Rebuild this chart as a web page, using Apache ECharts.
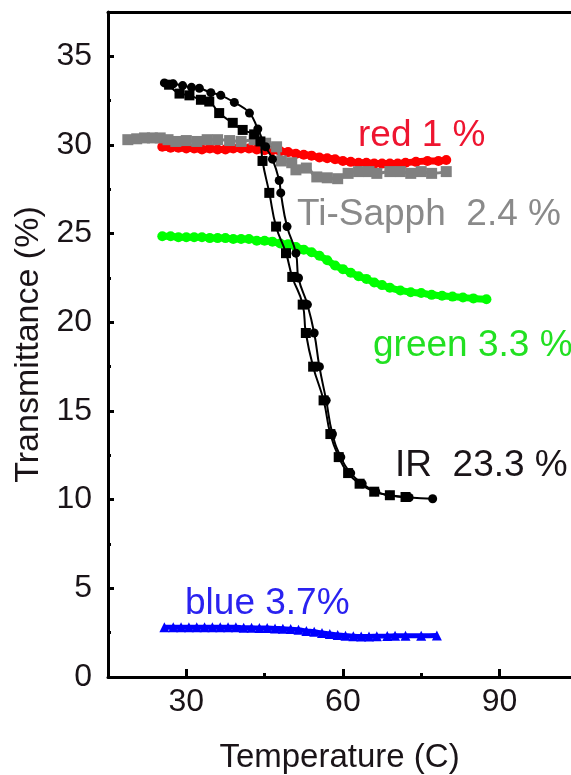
<!DOCTYPE html>
<html><head><meta charset="utf-8">
<script src="https://cdn.jsdelivr.net/npm/echarts@6/dist/echarts.min.js"></script>
<style>html,body{margin:0;padding:0;background:#fff}#c{width:571px;height:775px}</style>
</head><body><div id="c"></div>
<script>
// ---- data ----
const xTickLabels = [30, 60, 90];
const xMinorTicks = [45, 75];
const yTickLabels = [0, 5, 10, 15, 20, 25, 30, 35];
const yMinorTicks = [2.5, 7.5, 12.5, 17.5, 22.5, 27.5, 32.5];

const irCooling = [[25.8,33.5],[27.5,33.45],[29.3,33.35],[31,33.25],[32.5,33.2],[34.7,32.95],[36.6,32.8],[39.2,32.4],[42.1,31.8],[43.7,30.9],[45.2,29.9],[46.5,29.2],[47.8,28.0],[48.1,27.3],[49.3,25.4],[51.0,23.9],[51.5,22.5],[53.2,21.0],[54.5,19.4],[55.5,17.5],[56.8,15.6],[58.0,13.7],[59.6,12.4],[61.5,11.5],[63.7,10.9],[66.3,10.45],[68.9,10.25],[72.7,10.12],[77.2,10.05]];
const irHeating = [[26.7,33.4],[28.7,32.9],[30.6,32.8],[32.8,32.55],[34.4,32.45],[36.3,31.8],[38.9,31.25],[40.8,30.85],[43.0,30.6],[44.2,30.2],[44.6,29.1],[45.9,27.3],[47.2,25.4],[49.1,23.9],[50.3,22.56],[52.3,21.0],[52.9,19.4],[54.3,17.5],[56.3,15.6],[57.6,13.7],[59.2,12.4],[61.0,11.5],[63.2,10.9],[66.0,10.45],[69.0,10.25],[72.0,10.15]];
const redData = [[25.4,29.9],[27,29.85],[28.5,29.85],[30,29.8],[31.5,29.8],[33,29.75],[34.5,29.8],[36,29.75],[37.5,29.75],[39,29.8],[40.5,29.8],[42,29.8],[43.5,29.75],[45,29.7],[46.5,29.7],[48,29.65],[49.5,29.6],[51,29.5],[52.5,29.45],[54,29.4],[55.5,29.3],[57,29.25],[58.5,29.2],[60,29.1],[61.5,29.05],[63,29.0],[64.5,29.0],[66,28.95],[67.5,28.95],[69,28.95],[70.5,28.95],[72,29.0],[74,29.05],[76.2,29.1],[78.3,29.1],[79.8,29.15]];
const tiSapphData = [[18.8,30.3],[20.5,30.35],[22,30.4],[23.5,30.4],[25,30.4],[26.5,30.3],[28,30.2],[30,30.25],[32,30.2],[34,30.3],[36,30.3],[38.3,30.25],[40.5,30.2],[43,30.3],[45.2,30.1],[47.3,29.9],[48.2,29.1],[50.2,29.0],[51,28.6],[53,28.7],[55,28.2],[57,28.15],[59,28.1],[61,28.4],[63,28.5],[65,28.5],[66.5,28.4],[69,28.5],[71,28.5],[73,28.4],[75,28.5],[77,28.4],[79.8,28.5]];
const greenData = [[25.4,24.85],[27,24.85],[28.5,24.8],[30,24.8],[31.5,24.8],[33,24.8],[34.5,24.75],[36,24.75],[37.5,24.75],[39,24.7],[40.5,24.7],[42,24.7],[43.5,24.6],[45,24.6],[46.5,24.55],[48,24.45],[49.5,24.4],[51,24.25],[52.5,24.1],[54,23.95],[55.5,23.75],[57,23.5],[58.5,23.2],[60,23.0],[61.5,22.8],[63,22.6],[64.5,22.45],[66,22.25],[67.5,22.1],[69,21.95],[71,21.8],[73,21.7],[75,21.65],[77,21.55],[79,21.5],[81,21.45],[83,21.4],[85,21.35],[87.5,21.3]];
const blueData = [[25.8,2.8],[27.5,2.8],[29,2.8],[30.5,2.8],[32,2.8],[33.5,2.8],[35,2.8],[36.5,2.8],[38,2.8],[39.5,2.8],[41,2.78],[42.5,2.78],[44,2.76],[45.5,2.76],[47,2.74],[48.5,2.72],[50,2.7],[51.5,2.66],[53,2.6],[54.5,2.55],[56,2.48],[57.5,2.42],[59,2.37],[60.5,2.33],[62,2.3],[63.5,2.29],[65,2.29],[66.5,2.3],[68.5,2.31],[70,2.32],[72,2.33],[75,2.33],[78,2.34]];

const annotationTexts = ['red 1 %', 'Ti-Sapph  2.4 %', 'green 3.3 %', 'IR  23.3 %', 'blue 3.7%'];
const xAxisTitle = 'Temperature (C)';
const yAxisTitle = 'Transmittance (%)';

// ---- chart ----
const textFont = '"Liberation Sans",Arial,sans-serif';
const X_MIN = 15, X_MAX = 103.7, Y_MIN = 0, Y_MAX = 37.5;

const chart = echarts.init(document.getElementById('c'), null, {renderer: 'canvas'});

function line(name, data, color, symbol, size, lw, z) {
  return {
    name, type: 'line', data, smooth: true, symbol, symbolSize: size,
    lineStyle: {color, width: lw}, itemStyle: {color, borderWidth: 0},
    z, animation: false, emphasis: {disabled: true}
  };
}

// top-left corner of each annotation text box (pixels)
const annPos = [
  {x: 358, y: 117, color: '#ee1530'},
  {x: 297, y: 196, color: '#8a8a8a'},
  {x: 373, y: 327, color: '#22e022'},
  {x: 395, y: 447, color: '#1a1418'},
  {x: 185, y: 585, color: '#2a22f0'}
];

chart.setOption({
  animation: false,
  backgroundColor: '#fff',
  grid: {left: 108, right: 0, top: 12, bottom: 98, containLabel: false, outerBoundsMode: 'none'},
  xAxis: [
    {
      type: 'value', position: 'bottom', min: X_MIN, max: X_MAX,
      axisLine: {show: true, lineStyle: {color: '#000', width: 3}},
      axisTick: {show: true, inside: true, length: 8, lineStyle: {color: '#000', width: 3}, customValues: xTickLabels},
      axisLabel: {show: true, customValues: xTickLabels, color: '#1a1418', fontSize: 32, fontFamily: textFont, margin: 9},
      splitLine: {show: false},
      name: xAxisTitle, nameLocation: 'middle', nameGap: 64,
      nameTextStyle: {fontSize: 33, fontFamily: textFont, color: '#1a1418'}
    },
    {
      type: 'value', position: 'bottom', min: X_MIN, max: X_MAX,
      axisLine: {show: false},
      axisTick: {show: true, inside: true, length: 4, lineStyle: {color: '#000', width: 3}, customValues: xMinorTicks},
      axisLabel: {show: false}, splitLine: {show: false}
    },
    {
      type: 'value', position: 'top', min: X_MIN, max: X_MAX,
      axisLine: {show: true, lineStyle: {color: '#000', width: 3}},
      axisTick: {show: false}, axisLabel: {show: false}, splitLine: {show: false}
    }
  ],
  yAxis: [
    {
      type: 'value', position: 'left', min: Y_MIN, max: Y_MAX,
      axisLine: {show: true, lineStyle: {color: '#000', width: 3}},
      axisTick: {show: true, inside: true, length: 6, lineStyle: {color: '#000', width: 3}, customValues: yTickLabels},
      axisLabel: {show: true, customValues: yTickLabels, color: '#1a1418', fontSize: 32, fontFamily: textFont, margin: 16},
      splitLine: {show: false},
      name: yAxisTitle, nameLocation: 'middle', nameGap: 50,
      nameTextStyle: {fontSize: 34, fontFamily: textFont, color: '#1a1418'}
    },
    {
      type: 'value', position: 'left', min: Y_MIN, max: Y_MAX,
      axisLine: {show: false},
      axisTick: {show: true, inside: true, length: 3, lineStyle: {color: '#000', width: 3}, customValues: yMinorTicks},
      axisLabel: {show: false}, splitLine: {show: false}
    }
  ],
  series: [
    line('red', redData, '#ff0000', 'circle', 10, 7, 2),
    line('Ti-Sapph', tiSapphData, '#808080', 'rect', 11, 3, 3),
    line('green', greenData, '#00ff00', 'circle', 10, 7, 2),
    line('blue', blueData, '#0000ff', 'triangle', 10, 5, 2),
    line('IR cooling', irCooling, '#000000', 'circle', 9, 2, 5),
    line('IR heating', irHeating, '#000000', 'rect', 10, 2, 5)
  ],
  graphic: annotationTexts.map((t, i) => ({
    type: 'text', silent: true, z: 10,
    style: {
      text: t, x: annPos[i].x, y: annPos[i].y,
      font: '37px ' + textFont, fill: annPos[i].color,
      textAlign: 'left', align: 'left',
      textVerticalAlign: 'top', verticalAlign: 'top'
    }
  }))
});
</script></body></html>
